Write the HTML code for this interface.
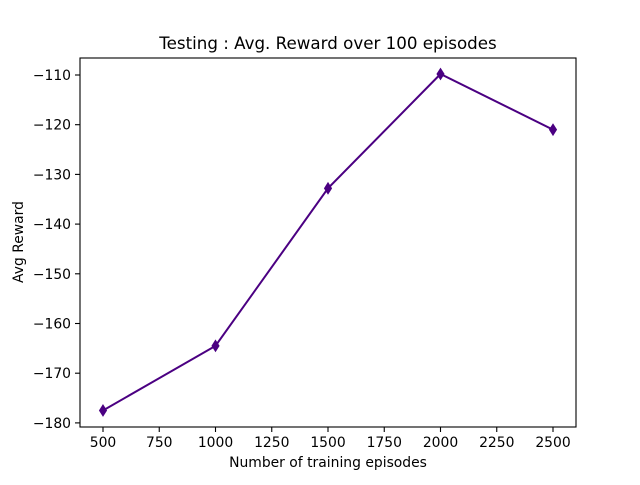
<!DOCTYPE html>
<html><head><meta charset="utf-8"><style>
body{margin:0;background:#fff}
text{font-family:"DejaVu Sans","Liberation Sans",sans-serif;fill:#000}
</style></head><body>
<svg id="chart" width="640" height="480" xmlns="http://www.w3.org/2000/svg">
<rect width="640" height="480" fill="#fff"/>
<text x="328" y="49" font-size="16.7" text-anchor="middle">Testing : Avg. Reward over 100 episodes</text>
<g id="xt"></g>
<g id="yt"></g>
<g id="series"></g>
<rect x="80" y="58" width="496" height="369" fill="none" stroke="#000" stroke-width="1.1"/>
<text x="328" y="467" font-size="13.9" text-anchor="middle">Number of training episodes</text>
<text transform="translate(23,242) rotate(-90)" font-size="13.9" text-anchor="middle">Avg Reward</text>
</svg>
<script>
const episodes=[500,1000,1500,2000,2500];
const rewards=[-177.5,-164.5,-132.8,-109.8,-121];
const xTicks=[500,750,1000,1250,1500,1750,2000,2250,2500];
const yTicks=[-110,-120,-130,-140,-150,-160,-170,-180];
const NS="http://www.w3.org/2000/svg";
function X(v){return 103+(v-500)*0.225;}
function Y(v){return 75+(-110-v)*4.97;}
function mk(t,a,p){const e=document.createElementNS(NS,t);for(const k in a)e.setAttribute(k,a[k]);p.appendChild(e);return e;}
const xt=document.getElementById('xt'),yt=document.getElementById('yt'),s=document.getElementById('series');
xTicks.forEach(v=>{const x=X(v);
 const l=mk('line',{x1:x,x2:x,y1:427,y2:432,stroke:'#000','stroke-width':1.1},xt);
 
 
 const t=mk('text',{x:x,y:447,'font-size':13.9,'text-anchor':'middle'},xt);t.textContent=v;
 
 });
yTicks.forEach(v=>{const y=Y(v);
 const l=mk('line',{x1:75,x2:80,y1:y,y2:y,stroke:'#000','stroke-width':1.1},yt);
 
 
 const t=mk('text',{x:71,y:y+5,'font-size':13.9,'text-anchor':'end'},yt);t.textContent='\u2212'+Math.abs(v);
 
 });
const pl=mk('polyline',{points:episodes.map((e,i)=>X(e)+','+Y(rewards[i])).join(' '),fill:'none',stroke:'#4b0082','stroke-width':2},s);


episodes.forEach((e,i)=>{const x=X(e),y=Y(rewards[i]);
 const d=mk('polygon',{points:`${x},${y-5.5} ${x+3.5},${y} ${x},${y+5.5} ${x-3.5},${y}`,fill:'#4b0082',stroke:'#4b0082','stroke-width':1},s);
 
 });
</script>
</body></html>
